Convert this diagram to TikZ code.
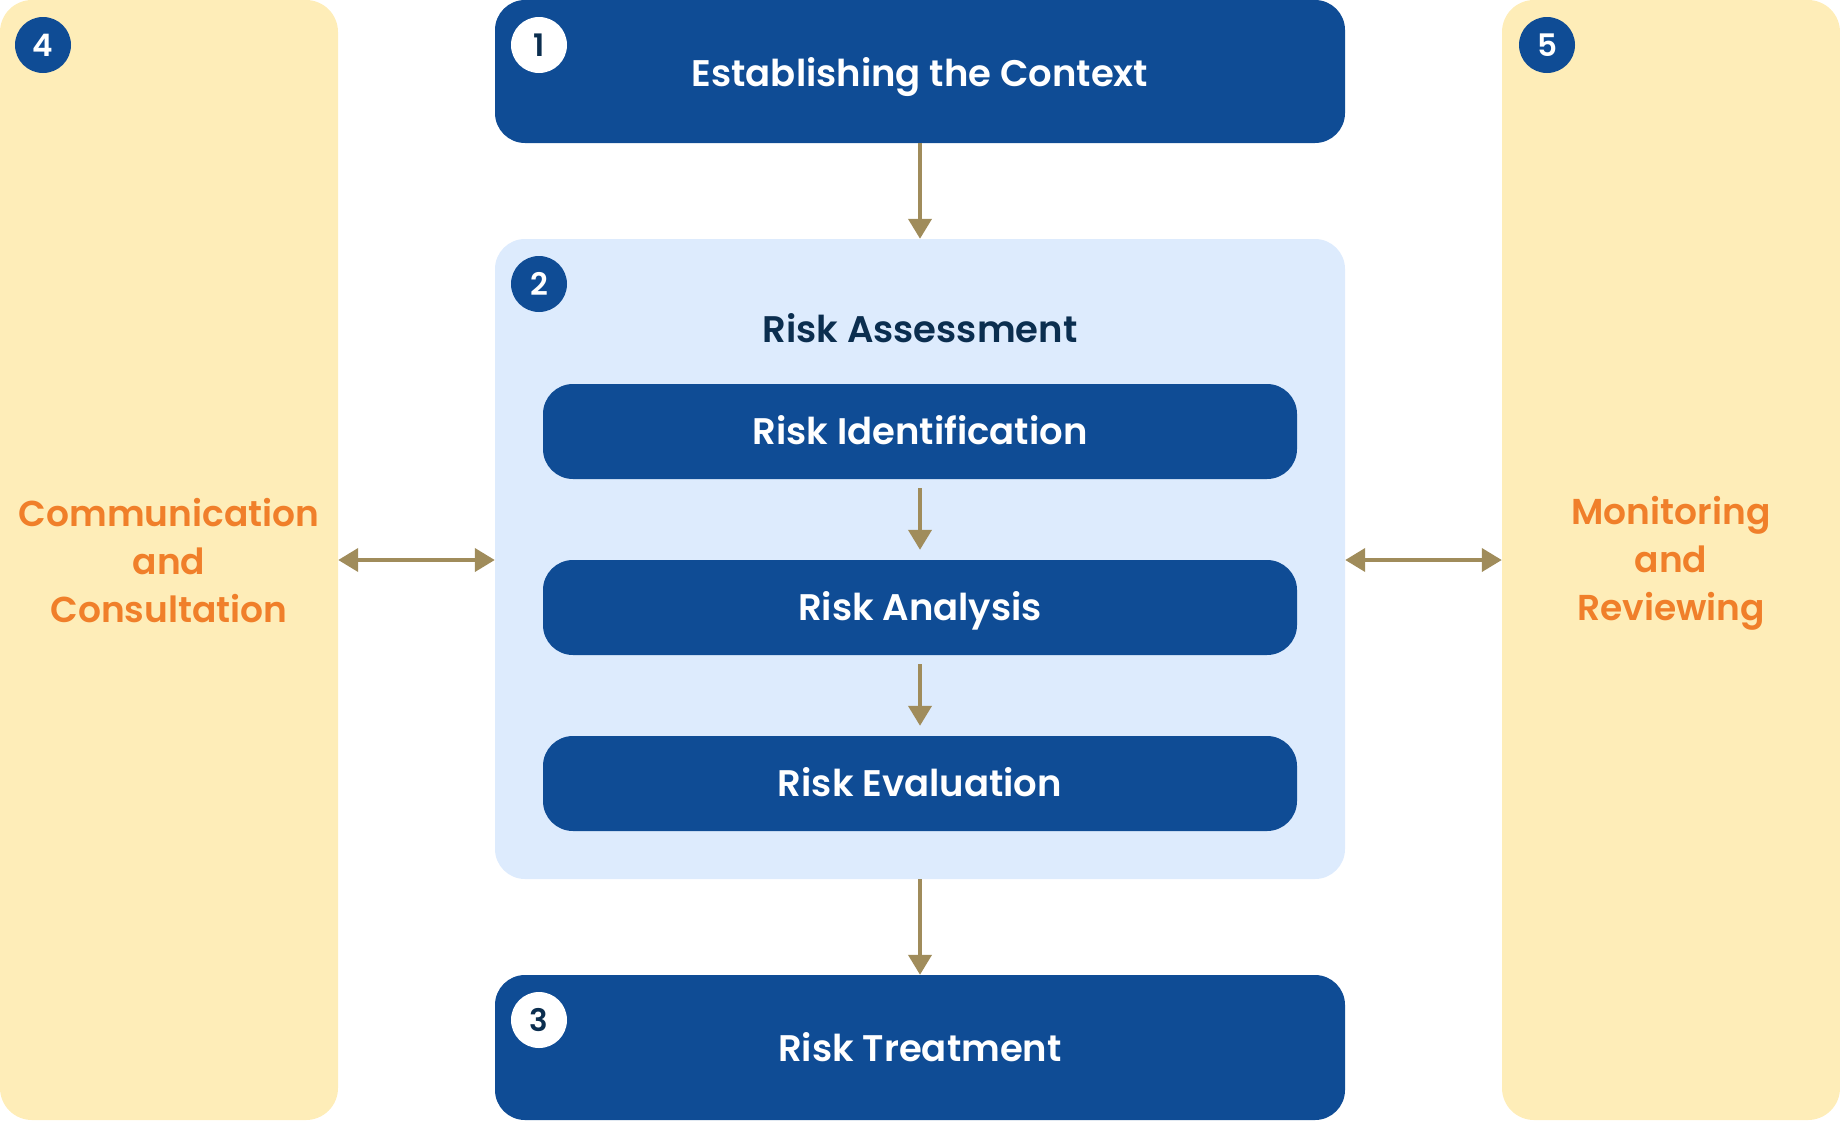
\documentclass[tikz,border=0pt]{standalone}
\usepackage{fontspec}
\setmainfont{Poppins}[UprightFont=* Medium, BoldFont=* SemiBold]
\usetikzlibrary{arrows.meta}
\definecolor{dblue}{HTML}{0F4C95}
\definecolor{lblue}{HTML}{DDEBFD}
\definecolor{pyellow}{HTML}{FEEDB8}
\definecolor{porange}{HTML}{F07F2A}
\definecolor{olive}{HTML}{A08C5B}
\definecolor{navy}{HTML}{0B2E4F}
\tikzset{
  panel/.style={fill=pyellow, rounded corners=32pt, minimum width=338pt, minimum height=1120pt, inner sep=0pt},
  bigbox/.style={fill=dblue, rounded corners=30pt, minimum width=850pt, inner sep=0pt},
  lbl/.style={inner sep=0pt, text height=26pt, text depth=0pt, font=\fontsize{37}{44}\selectfont\bfseries},
  subbox/.style={fill=dblue, rounded corners=30pt, minimum width=754pt, minimum height=95pt, inner sep=0pt, text=white, text height=26pt, text depth=0pt, font=\fontsize{37}{44}\selectfont\bfseries},
  sidetext/.style={text=porange, align=center, font=\fontsize{36}{48}\selectfont\bfseries},
  numdark/.style={circle, fill=dblue, minimum size=56pt, inner sep=0pt, text=white, text height=22pt, text depth=0pt, font=\fontsize{31}{34}\selectfont\bfseries},
  numlight/.style={circle, fill=white, minimum size=56pt, inner sep=0pt, text=navy, text height=22pt, text depth=0pt, font=\fontsize{31}{34}\selectfont\bfseries},
  conn/.style={draw=olive, line width=4pt, -{Triangle[length=20pt, width=23pt]}},
  biconn/.style={draw=olive, line width=4pt, {Triangle[length=20pt, width=23pt]}-{Triangle[length=20pt, width=23pt]}},
}
\begin{document}
\begin{tikzpicture}[x=1pt, y=-1pt]
\useasboundingbox (0,0) rectangle (1840,1120);
% side panels
\node[panel] (left) at (169,560) {};
\node[panel] (right) at (1671,560) {};
\node[sidetext] (lefttext) at (169,561) {Communication\\and\\Consultation};
\node[sidetext] (righttext) at (1671,563.5) {Monitoring\\and\\Reviewing};
\node[numdark] (n4) at (43,45) {4};
\node[numdark] (n5) at (1547,45) {5};
% central column
\node[bigbox, minimum height=143pt] (ctx) at (920,71.5) {};
\node[lbl, text=white] (ctxt) at (920,73) {Establishing the Context};
\node[numlight] (n1) at (539,45) {1};
\node[fill=lblue, rounded corners=30pt, minimum width=850pt, minimum height=640pt, inner sep=0pt] (assess) at (920,559) {};
\node[numdark] (n2) at (539,284) {2};
\node[lbl, text=navy] (assesst) at (920,329) {Risk Assessment};
\node[subbox] (ri) at (920,431.5) {Risk Identification};
\node[subbox] (ra) at (920,607.5) {Risk Analysis};
\node[subbox] (re) at (920,783.5) {Risk Evaluation};
\node[bigbox, minimum height=145pt] (treat) at (920,1047.5) {};
\node[lbl, text=white] (treatt) at (920,1048) {Risk Treatment};
\node[numlight] (n3) at (539,1020) {3};
% connectors
\draw[conn] (ctx.south) -- (assess.north);
\draw[conn, shorten <=9pt, shorten >=10pt] (ri.south) -- (ra.north);
\draw[conn, shorten <=9pt, shorten >=10pt] (ra.south) -- (re.north);
\draw[conn] (assess.south) -- (treat.north);
\draw[biconn] (left.east |- 0,560) -- (assess.west |- 0,560);
\draw[biconn] (assess.east |- 0,560) -- (right.west |- 0,560);
\end{tikzpicture}
\end{document}
